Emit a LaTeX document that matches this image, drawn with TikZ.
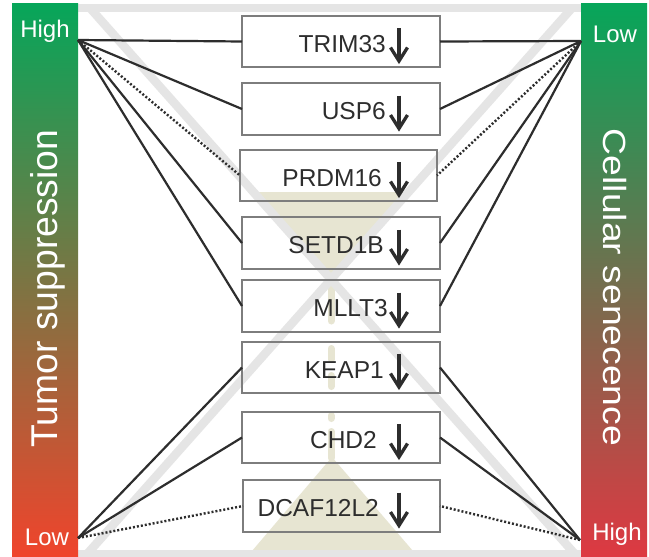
\documentclass[tikz,border=0pt]{standalone}
\usepackage{fontspec}
\setmainfont{Liberation Sans}
\definecolor{hgray}{RGB}{229,229,229}
\definecolor{sandc}{RGB}{231,229,210}
\definecolor{ink}{RGB}{45,45,45}
\definecolor{boxgray}{RGB}{125,125,125}
\definecolor{gtop}{RGB}{6,166,90}
\definecolor{lbot}{RGB}{240,68,44}
\definecolor{rbot}{RGB}{222,56,66}
\begin{document}
\begin{tikzpicture}[x=1pt,y=-1pt,
  hg/.style={draw=hgray, line width=8.5pt},
  sandline/.style={draw=sandc, line width=7pt, line cap=round},
  genebox/.style={draw=boxgray, line width=1.3pt, inner sep=0pt, outer sep=0pt},
  genetext/.style={text=ink, font=\fontsize{24.5}{28}\selectfont, inner sep=0pt},
  downarr/.style={draw=ink, line width=3.3pt, line join=miter},
  conn/.style={draw=ink, line width=2.2pt},
  dotconn/.style={draw=ink, line width=2.4pt, dash pattern=on 2pt off 2pt},
  lbl/.style={text=white, font=\fontsize{24}{28}\selectfont, inner sep=0pt},
  biglbl/.style={text=white, font=\fontsize{37.3}{42}\selectfont, inner sep=0pt}]
\useasboundingbox (0,0) rectangle (649,557);
\fill[white] (0,0) rectangle (649,557);
% sand
\fill[sandc] (248,192) -- (412,192) -- (330,282) -- cycle;
\fill[sandc] (332,457) -- (413,551) -- (252,551) -- cycle;
\draw[sandline] (331,286) -- (331,321);
\draw[sandline] (331,348.5) -- (331,359.5);
\draw[sandline] (331,375.5) -- (331,386.5);
\draw[sandline] (331,415.5) -- (331,418.5);
\draw[sandline] (331,431.5) -- (331,458);
% hourglass frame
\draw[hg] (78,8) -- (584,8);
\draw[hg] (78,554) -- (581,554);
\draw[hg] (90,8) -- (574,553);
\draw[hg] (572,8) -- (88,553);
% gene boxes
\foreach \n/\lab/\l/\r/\t/\b/\te in {
  b1/TRIM33/242/440/16/67/386,
  b2/USP6/242/440/83/135/386,
  b3/PRDM16/240/437/150/201/382,
  b4/SETD1B/242/440/217/269/384,
  b5/MLLT3/242/440/280/332/388,
  b6/KEAP1/242/440/342/393/384,
  b7/CHD2/242/440/412/463/377,
  b8/DCAF12L2/243/440/480/532/379}
{
  \node[genebox, minimum width={(\r-\l)*1pt}, minimum height={(\b-\t)*1pt}] (\n) at ({(\l+\r)/2},{(\t+\b)/2}) {};
  \node[genetext, anchor=base east] (\n t) at (\te,{(\t+\b)/2+10.5}) {\lab};
  \draw[downarr] (399,{(\t+\b)/2-13.5}) -- (399,{(\t+\b)/2+18.5});
  \draw[downarr] (390.5,{(\t+\b)/2+6}) -- (399,{(\t+\b)/2+19.5}) -- (407.5,{(\t+\b)/2+6});
}
% bars
\shade[top color=gtop, bottom color=lbot] (12,3) rectangle (78,557);
\shade[top color=gtop, bottom color=rbot] (581,3) rectangle (647,557);
\coordinate (LH) at (78,40);
\coordinate (LL) at (78,538);
\coordinate (RL) at (581,41);
\coordinate (RH) at (580,540);
% connectors
\draw[conn] (LH) -- (b1.west);
\draw[conn] (LH) -- (b2.west);
\draw[dotconn] (LH) -- (b3.west);
\draw[conn] (LH) -- (b4.west);
\draw[conn] (LH) -- (b5.west);
\draw[conn] (LL) -- (b6.west);
\draw[conn] (LL) -- (b7.west);
\draw[dotconn] (LL) -- (b8.west);
\draw[conn] (RL) -- (b1.east);
\draw[conn] (RL) -- (b2.east);
\draw[dotconn] (RL) -- (b3.east);
\draw[conn] (RL) -- (b4.east);
\draw[conn] (RL) -- (b5.east);
\draw[conn] (RH) -- (b6.east);
\draw[conn] (RH) -- (b7.east);
\draw[dotconn] (RH) -- (b8.east);
% labels
\node[lbl, anchor=base] (lhigh) at (45,37) {High};
\node[lbl, anchor=base] (llow) at (47,545) {Low};
\node[lbl, anchor=base] (rlow) at (615,42) {Low};
\node[lbl, anchor=base] (rhigh) at (617,540) {High};
\node[biglbl, rotate=90, anchor=base] (ltitle) at (57,288.5) {Tumor suppression};
\node[biglbl, rotate=-90, anchor=base] (rtitle) at (603,287.5) {\scalebox{1}[0.86]{Cellular senecence}};
\end{tikzpicture}
\end{document}
